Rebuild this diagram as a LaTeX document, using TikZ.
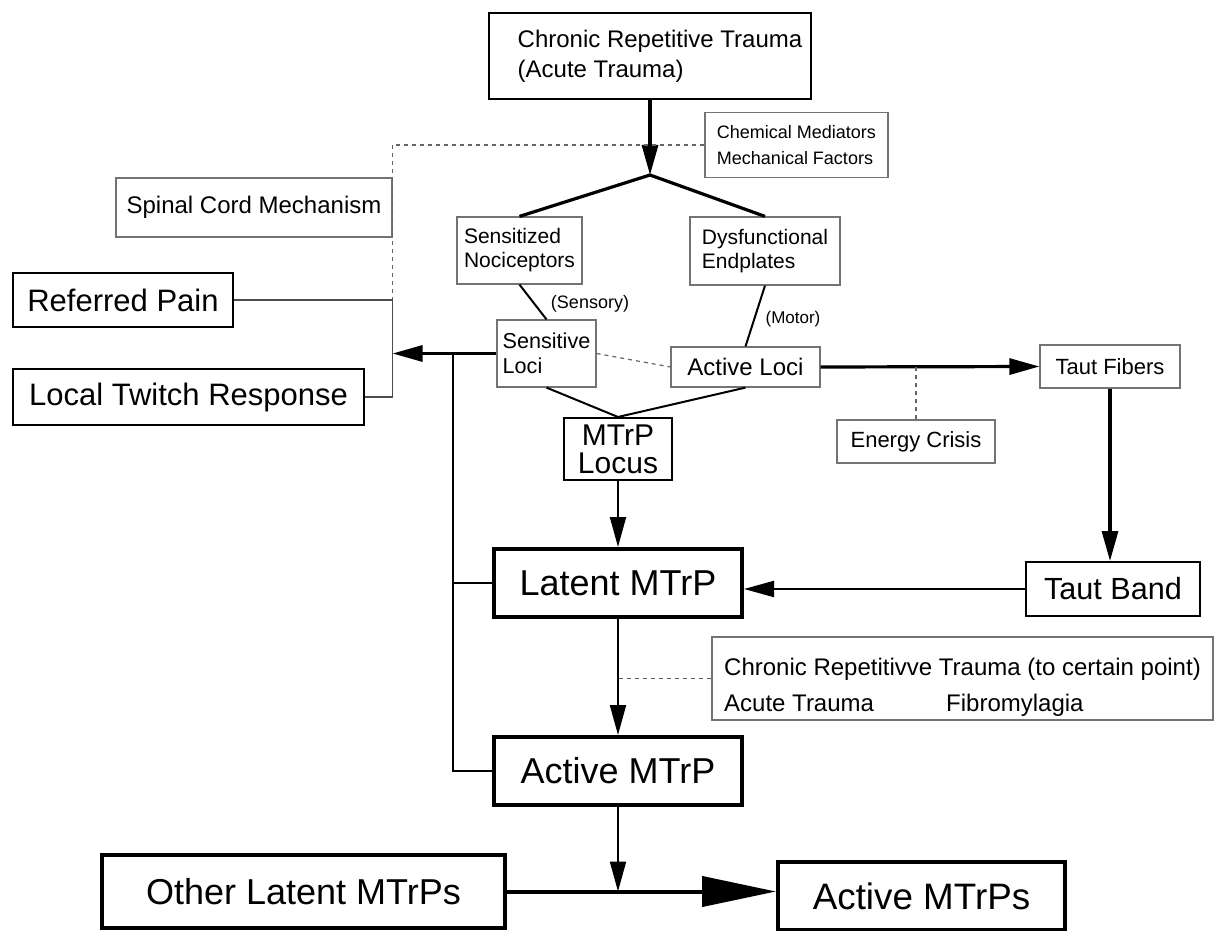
\documentclass[tikz,border=0pt]{standalone}
\usepackage{fontspec}
\setmainfont{Liberation Sans}
\usepackage{tikz}
\usetikzlibrary{arrows.meta}
\tikzset{
   faintbox/.style={draw=black!55, line width=0.6pt, inner sep=0pt},
   plainbox/.style={draw=black, line width=1pt, inner sep=0pt},
   heavybox/.style={draw=black, line width=2pt, inner sep=0pt},
   heavy/.style={draw=black, line width=1.6pt},
   link/.style={draw=black, line width=1pt},
   hair/.style={draw=black!70, line width=0.6pt},
   dotted link/.style={draw=black!60, line width=0.6pt, dash pattern=on 2pt off 2pt},
   tip/.style={-{Triangle[length=15pt,width=8pt]}},
   big tip/.style={-{Triangle[length=37pt,width=15pt]}},
   fsz/.style 2 args={font=\fontsize{#1}{#2}\selectfont},
}
\begin{document}
\begin{tikzpicture}[x=0.5pt,y=-0.5pt]
\useasboundingbox (0,0) rectangle (1216,931);
\node[plainbox, minimum width=161pt, minimum height=43pt, align=left, fsz={12}{15}] (trauma) at(650,56) {\hspace*{10pt}Chronic Repetitive Trauma\\\hspace*{10pt}(Acute Trauma)};
\node[faintbox, minimum width=91.5pt, minimum height=32.5pt, align=left, fsz={9}{13}] (chem) at(796.5,145) {Chemical Mediators\\Mechanical Factors};
\node[faintbox, minimum width=138pt, minimum height=29.5pt, fsz={12}{14}] (spinal) at(254,207.5) {Spinal Cord Mechanism};
\node[plainbox, minimum width=110pt, minimum height=27pt, fsz={15.5}{18}] (referred) at(123,300) {Referred Pain};
\node[plainbox, minimum width=175.5pt, minimum height=28pt, fsz={15.5}{18}] (twitch) at(188.5,397) {Local Twitch Response};
\node[faintbox, minimum width=62.5pt, minimum height=33.5pt, align=left, fsz={10.5}{12}] (nocic) at(519.5,250.5) {Sensitized\\Nociceptors};
\node[faintbox, minimum width=75pt, minimum height=34pt, align=left, fsz={10.5}{12}] (endpl) at(765,251) {Dysfunctional\\Endplates};
\node[faintbox, minimum width=49.5pt, minimum height=33.5pt, align=left, fsz={10.8}{12.5}] (sloci) at(546.5,353.5) {Sensitive\\Loci};
\node[faintbox, minimum width=74.5pt, minimum height=20pt, fsz={12}{14}] (aloci) at(745.5,367) {Active Loci};
\node[plainbox, minimum width=54pt, minimum height=31pt, align=center, fsz={15}{14}] (locus) at(618,449) {MTrP\\Locus};
\node[faintbox, minimum width=70pt, minimum height=21.5pt, fsz={11}{13}] (fibers) at(1110,366.5) {Taut Fibers};
\node[faintbox, minimum width=79pt, minimum height=21.5pt, fsz={11}{13}] (crisis) at(916,441.5) {Energy Crisis};
\node[plainbox, minimum width=87pt, minimum height=27pt, fsz={15.3}{18}] (band) at(1113,589) {Taut Band};
\node[heavybox, minimum width=124pt, minimum height=34pt, fsz={18}{21}] (latent) at(618,583) {Latent MTrP};
\node[heavybox, minimum width=124pt, minimum height=34pt, fsz={18}{21}] (active) at(618,771) {Active MTrP};
\node[faintbox, minimum width=250.5pt, minimum height=41.5pt, align=left, fsz={12}{18}] (chronic) at(962.5,678.5) {\rule{0pt}{17pt}Chronic Repetitivve Trauma (to certain point)\\\makebox[111pt][l]{Acute Trauma}Fibromylagia};
\node[heavybox, minimum width=201.5pt, minimum height=36.5pt, fsz={18}{21}] (others) at(303.5,891.5) {Other Latent MTrPs};
\node[heavybox, minimum width=143.5pt, minimum height=34pt, fsz={18.4}{21}] (actives) at(921.5,896) {Active MTrPs};
\node[fsz={9}{11}] (sensory) at(590,304) {(Sensory)};
\node[fsz={8.5}{10}] (motor) at(793,319) {(Motor)};
\coordinate (split) at(650,175);
\coordinate (bus) at(453,0);
\coordinate (merge) at(active.south |- others.east);

\draw[heavy, tip] (trauma) to (split);
\draw[heavy] (nocic.north) to (split) to (endpl.north);
\draw[dotted link] (chem.west) -- (chem.west -| spinal.east) -- (referred.east -| spinal.east);
\draw[hair] (referred.east) -- (referred.east -| spinal.east) -- (twitch.east -| spinal.east) -- (twitch.east);
\draw[heavy, tip] (sloci.west) -- (sloci.west -| spinal.east);
\draw[link] (nocic.south) to (sloci.north);
\draw[link] (endpl.south) to (aloci.north);
\draw[dotted link] (sloci.east) to (aloci.west);
\draw[link] (sloci.south) to (locus.north) to (aloci.south);
\draw[heavy, tip] (aloci.east) -- (fibers.west);
\draw[dotted link] (crisis.north) -- (crisis.north |- aloci.east);
\draw[heavy, tip] (fibers.south) -- (fibers.south |- band.north);
\draw[link, tip] (band.west) -- (band.west -| latent.east);
\draw[link, tip] (locus) to (latent);
\draw[link, tip] (latent) to (active);
\draw[dotted link] (chronic.west) -- (chronic.west -| latent.south);
\draw[link] (sloci.west -| bus) -- (active.west -| bus) -- (active.west);
\draw[link] (latent.west -| bus) -- (latent.west);
\draw[link, tip] (active) to (merge);
\draw[line width=2pt, big tip] (others.east) -- (others.east -| actives.west);
\end{tikzpicture}
\end{document}
